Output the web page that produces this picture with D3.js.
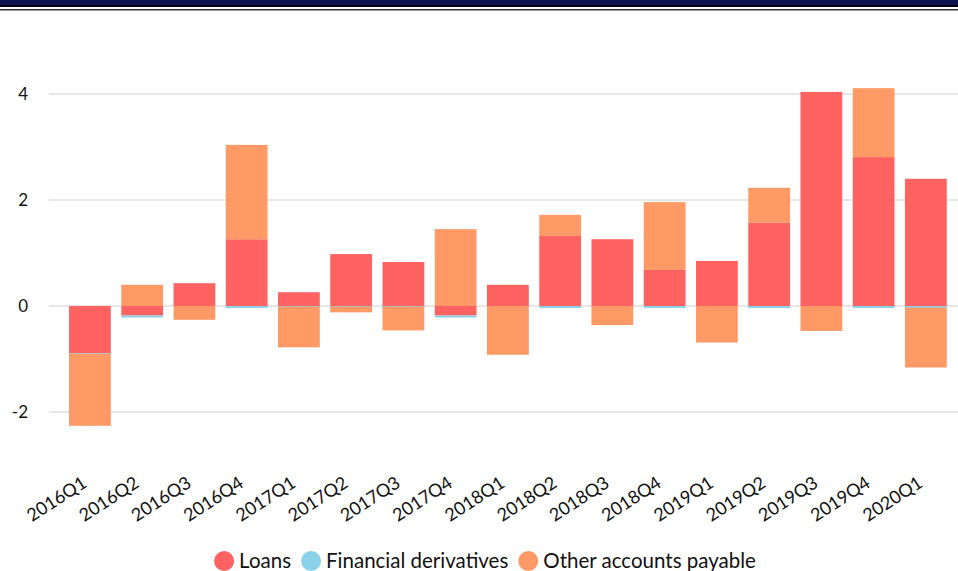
<!DOCTYPE html>
<html>
<head>
<meta charset="utf-8">
<script src="https://cdn.jsdelivr.net/npm/d3@7"></script>
<style>
    body { margin: 0; background: #fff; }
    svg { display: block; font-family: Lato, "Open Sans", sans-serif; }
</style>
</head>
<body>
<div id="chart"></div>
<script>

// quarters on the x axis
const quarters = ['2016Q1', '2016Q2', '2016Q3', '2016Q4', '2017Q1', '2017Q2', '2017Q3', '2017Q4',
    '2018Q1', '2018Q2', '2018Q3', '2018Q4', '2019Q1', '2019Q2', '2019Q3', '2019Q4', '2020Q1'];

// series values
const loans = [-0.89, -0.18, 0.43, 1.26, 0.26, 0.98, 0.83, -0.18,
    0.40, 1.32, 1.26, 0.68, 0.85, 1.57, 4.04, 2.81, 2.40];
const financialDerivatives = [-0.01, -0.02, 0, -0.01, -0.01, -0.01, -0.01, -0.02,
    0, -0.01, 0, -0.01, 0, -0.01, 0, -0.01, -0.03];
const otherAccountsPayable = [-1.36, 0.40, -0.26, 1.78, -0.77, -0.11, -0.45, 1.45,
    -0.92, 0.40, -0.36, 1.28, -0.69, 0.66, -0.47, 1.30, -1.13];

const seriesNames = ['Loans', 'Financial derivatives', 'Other accounts payable'];
const seriesColors = ['#ff6361', '#89d2ea', '#ff9966'];
const yTicks = [-2, 0, 2, 4];


const width = 958;
const height = 571;

var svg = d3.select('#chart')
    .append('svg')
    .attr('width', width)
    .attr('height', height);

// header stripes at the top
svg.append('rect').attr('x', 0).attr('y', 0).attr('width', width).attr('height', 5).attr('fill', '#0c1450');
svg.append('rect').attr('x', 0).attr('y', 5).attr('width', width).attr('height', 2).attr('fill', '#000');
svg.append('rect').attr('x', 0).attr('y', 9).attr('width', width).attr('height', 1).attr('fill', '#333');
svg.append('rect').attr('x', 0).attr('y', 10).attr('width', width).attr('height', 1).attr('fill', '#999');


// rows for d3.stack
var rows = quarters.map(function (q, i) {
    return {
        quarter: q,
        'Loans': loans[i],
        'Financial derivatives': financialDerivatives[i],
        'Other accounts payable': otherAccountsPayable[i]
    };
});

var stacked = d3.stack()
    .keys(seriesNames)
    .offset(d3.stackOffsetDiverging)(rows);


const x = d3.scaleBand()
    .domain(quarters)
    .range([63.8, 952])
    .paddingInner(0.2)
    .paddingOuter(0.1);

const y = d3.scaleLinear()
    .domain([-3, 5])
    .range([465, 41]);


// gridlines
svg.append('g')
    .selectAll('line')
    .data(yTicks)
    .enter()
    .append('line')
    .attr('x1', 49)
    .attr('x2', width)
    .attr('y1', d => y(d))
    .attr('y2', d => y(d))
    .attr('stroke', '#e6e6e6')
    .attr('stroke-width', 2);

// y axis labels (plain hyphen for the minus, like the original)
var yAxis = svg.append('g')
    .attr('transform', 'translate(28,0)')
    .call(d3.axisLeft(y).tickValues(yTicks).tickFormat(d => String(d)).tickSize(0).tickPadding(0));

yAxis.select('.domain').remove();
yAxis.selectAll('text')
    .attr('font-size', 17)
    .attr('font-family', 'Lato, "Open Sans", sans-serif')
    .attr('fill', '#111');


// bars
svg.append('g')
    .selectAll('g')
    .data(stacked)
    .enter()
    .append('g')
    .attr('fill', (d, i) => seriesColors[i])
    .selectAll('rect')
    .data(d => d)
    .enter()
    .append('rect')
    .attr('x', d => x(d.data.quarter))
    .attr('width', x.bandwidth())
    .attr('y', d => y(Math.max(d[0], d[1])))
    .attr('height', function (d) {
        var h = Math.abs(y(d[0]) - y(d[1]));
        // keep the tiny derivative slivers visible
        if (h > 0 && h < 2) { h = 2; }
        return h;
    });


// x axis labels, rotated
var xAxis = svg.append('g')
    .attr('transform', 'translate(0,466)')
    .call(d3.axisBottom(x).tickSize(0).tickPadding(0));

xAxis.select('.domain').remove();
xAxis.selectAll('text')
    .attr('font-size', 18)
    .attr('font-family', 'Lato, "Open Sans", sans-serif')
    .attr('fill', '#111')
    .attr('text-anchor', 'end')
    .attr('dy', 0)
    .attr('y', 0)
    .attr('transform', 'translate(-2,20) rotate(-33)');


// legend
var legend = svg.append('g')
    .attr('transform', 'translate(0,561)');

var legendX = 0;

seriesNames.forEach(function (name, i) {
    var item = legend.append('g');
    item.append('circle')
        .attr('cx', 10)
        .attr('cy', 0)
        .attr('r', 10)
        .attr('fill', seriesColors[i]);
    var t = item.append('text')
        .attr('x', 25)
        .attr('y', 7)
        .attr('font-size', 20.5)
        .attr('fill', '#111')
        .text(name);
    var w = 25 + t.node().getComputedTextLength();
    item.attr('transform', 'translate(' + legendX + ',0)');
    legendX += w + 10;
});

// center the legend row
var legendWidth = legendX - 10;
legend.attr('transform', 'translate(' + (485 - legendWidth / 2) + ',561)');

</script>
</body>
</html>
